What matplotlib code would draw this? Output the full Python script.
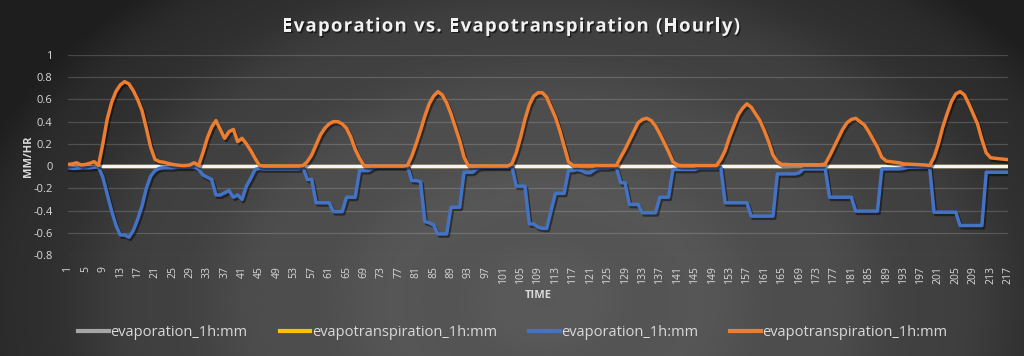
import numpy as np
import matplotlib
matplotlib.use("Agg")
import matplotlib.pyplot as plt
import matplotlib.patheffects as pe
from matplotlib.lines import Line2D
from matplotlib.font_manager import FontProperties
from matplotlib.textpath import TextToPath

# ---------------- data ----------------
hours = list(range(1, 218))

evapotranspiration = [
    0.015, 0.02, 0.03, 0.01, 0.015, 0.025, 0.04, 0.005, 0.2, 0.42,
    0.57, 0.67, 0.73, 0.76, 0.74, 0.68, 0.6, 0.5, 0.34, 0.17,
    0.06, 0.04, 0.035, 0.025, 0.015, 0.01, 0.005, 0.005, 0.01, 0.03,
    0.005, 0.12, 0.25, 0.35, 0.41, 0.33, 0.25, 0.31, 0.33, 0.22,
    0.25, 0.2, 0.14, 0.07, 0.005, 0, 0, 0, 0, 0,
    0, 0, 0, 0, 0.005, 0.04, 0.1, 0.19, 0.28, 0.34,
    0.38, 0.4, 0.4, 0.38, 0.34, 0.26, 0.15, 0.07, 0.005, 0,
    0, 0, 0, 0, 0, 0, 0, 0, 0.005, 0.09,
    0.2, 0.32, 0.45, 0.56, 0.63, 0.67, 0.64, 0.57, 0.47, 0.35,
    0.23, 0.08, 0.005, 0, 0, 0, 0, 0, 0, 0,
    0, 0, 0.02, 0.12, 0.26, 0.42, 0.55, 0.63, 0.66, 0.66,
    0.62, 0.53, 0.44, 0.32, 0.18, 0.04, 0.005, 0.005, 0.005, 0.005,
    0.005, 0.005, 0.005, 0.005, 0.005, 0.005, 0.005, 0.08, 0.15, 0.23,
    0.31, 0.39, 0.42, 0.43, 0.41, 0.36, 0.29, 0.21, 0.13, 0.04,
    0.01, 0.005, 0.005, 0.005, 0.005, 0.005, 0.005, 0.005, 0.005, 0.005,
    0.06, 0.14, 0.26, 0.36, 0.46, 0.52, 0.56, 0.53, 0.47, 0.41,
    0.32, 0.22, 0.1, 0.04, 0.015, 0.015, 0.012, 0.012, 0.012, 0.012,
    0.012, 0.012, 0.012, 0.012, 0.02, 0.09, 0.17, 0.25, 0.33, 0.39,
    0.42, 0.43, 0.4, 0.37, 0.31, 0.24, 0.17, 0.08, 0.045, 0.04,
    0.035, 0.03, 0.02, 0.018, 0.015, 0.015, 0.012, 0.01, 0.005, 0.08,
    0.2, 0.35, 0.47, 0.58, 0.65, 0.67, 0.64, 0.56, 0.47, 0.38,
    0.24, 0.12, 0.075, 0.07, 0.066, 0.062, 0.058,
]

evaporation = [
    -0.015, -0.02, -0.02, -0.015, -0.015, -0.015, -0.01, -0.005, -0.1, -0.25,
    -0.4, -0.53, -0.62, -0.62, -0.64, -0.58, -0.48, -0.36, -0.2, -0.09,
    -0.04, -0.02, -0.015, -0.015, -0.015, -0.01, -0.01, -0.01, -0.01, -0.005,
    -0.03, -0.08, -0.1, -0.12, -0.26, -0.26, -0.24, -0.22, -0.28, -0.26,
    -0.3, -0.18, -0.11, -0.03, -0.02, -0.025, -0.025, -0.025, -0.025, -0.025,
    -0.025, -0.025, -0.025, -0.025, -0.01, -0.12, -0.12, -0.33, -0.33, -0.33,
    -0.33, -0.41, -0.41, -0.41, -0.28, -0.28, -0.28, -0.04, -0.04, -0.04,
    -0.015, -0.005, -0.005, -0.005, -0.005, -0.005, -0.005, -0.005, 0, -0.13,
    -0.13, -0.14, -0.5, -0.51, -0.53, -0.61, -0.61, -0.61, -0.37, -0.37,
    -0.37, -0.055, -0.055, -0.055, -0.02, -0.01, -0.01, -0.01, -0.01, -0.01,
    -0.01, -0.01, 0, -0.18, -0.18, -0.18, -0.52, -0.52, -0.55, -0.56,
    -0.56, -0.4, -0.245, -0.245, -0.245, -0.04, -0.04, -0.03, -0.04, -0.06,
    -0.06, -0.03, -0.015, -0.015, -0.015, -0.01, -0.01, -0.15, -0.15, -0.345,
    -0.345, -0.345, -0.42, -0.42, -0.42, -0.42, -0.28, -0.28, -0.28, -0.03,
    -0.03, -0.03, -0.03, -0.03, -0.03, -0.015, -0.015, -0.015, -0.015, -0.015,
    -0.01, -0.33, -0.33, -0.33, -0.33, -0.33, -0.33, -0.45, -0.45, -0.45,
    -0.45, -0.45, -0.45, -0.07, -0.07, -0.07, -0.07, -0.07, -0.06, -0.025,
    -0.025, -0.025, -0.025, -0.025, -0.025, -0.28, -0.28, -0.28, -0.28, -0.28,
    -0.28, -0.405, -0.405, -0.405, -0.405, -0.405, -0.405, -0.025, -0.025, -0.025,
    -0.025, -0.025, -0.02, -0.01, -0.01, -0.01, -0.01, -0.01, -0.01, -0.415,
    -0.415, -0.415, -0.415, -0.415, -0.415, -0.535, -0.535, -0.535, -0.535, -0.535,
    -0.535, -0.055, -0.055, -0.055, -0.055, -0.055, -0.055,
]

# first pair of series (flat at zero in the chart)
evaporation_ref = [0.0] * len(hours)
evapotranspiration_ref = [0.0] * len(hours)

series_labels = ["evaporation_1h:mm", "evapotranspiration_1h:mm",
                 "evaporation_1h:mm", "evapotranspiration_1h:mm"]
legend_colors = ["#a5a5a5", "#ffc000", "#4472c4", "#ed7d31"]

y_ticks = [-0.8, -0.6, -0.4, -0.2, 0, 0.2, 0.4, 0.6, 0.8, 1]
x_tick_step = 4

title_text = "Evaporation vs. Evapotranspiration (Hourly)"
x_title = "TIME"
y_title = "MM/HR"

# ---------------- figure ----------------
W, H = 1024, 356
DPI = 100
fig = plt.figure(figsize=(W / DPI, H / DPI), dpi=DPI)

# radial gradient background
bg = fig.add_axes([0, 0, 1, 1], zorder=-5)
yy, xx = np.mgrid[0:H, 0:W]
d = np.sqrt(((xx - 545) / 620.0) ** 2 + ((yy - 300) / 430.0) ** 2)
L = 88 - 60 * d ** 2
L = L + 2.0 * np.sin(d * 30)  # faint concentric rings
L = np.clip(L, 30, 95) / 255.0
img = np.dstack([L, L, L])
bg.imshow(img, extent=[0, 1, 0, 1], aspect="auto", origin="upper")
bg.set_axis_off()

ax = fig.add_axes([68 / W, 101 / H, 940 / W, 200 / H])
ax.patch.set_alpha(0)

txt = "#d9d9d9"
font = "Open Sans"

shadow = [pe.SimpleLineShadow(offset=(1.2, -1.6), shadow_color="black", alpha=0.45),
          pe.Normal()]

ax.plot(hours, evapotranspiration_ref, color=legend_colors[1], lw=2.4, zorder=2,
        solid_capstyle="butt")
ax.plot(hours, evaporation_ref, color="#f4f4f4", lw=2.5, zorder=3,
        solid_capstyle="butt")
ax.plot(hours, evaporation, color=legend_colors[2], lw=2.5, zorder=4,
        solid_joinstyle="round", path_effects=shadow)
ax.plot(hours, evapotranspiration, color=legend_colors[3], lw=2.5, zorder=5,
        solid_joinstyle="round", path_effects=shadow)

ax.set_xlim(hours[0], hours[-1])
ax.set_ylim(-0.8, 1.0)
ax.set_yticks(y_ticks)
ax.set_yticklabels([f"{round(v, 1):g}" for v in y_ticks], fontsize=8,
                   color=txt, family=font)
xt = hours[::x_tick_step]
ax.set_xticks(xt)
ax.set_xticklabels([str(h) for h in xt], rotation=90, fontsize=7.5,
                   color=txt, family=font)
ax.tick_params(axis="both", length=0)
ax.tick_params(axis="y", pad=11)
ax.tick_params(axis="x", pad=8)
for s in ax.spines.values():
    s.set_visible(False)
ax.yaxis.grid(True, color="#ffffff", alpha=0.17, lw=0.9)
ax.set_axisbelow(True)

fig.text(28 / W, 1 - 156 / H, y_title, rotation=90, ha="center", va="center",
         fontsize=8, fontweight="bold", color=txt, family=font)
fig.text(538 / W, 1 - 295 / H, x_title, ha="center", va="center",
         fontsize=8, fontweight="bold", color=txt, family=font)

# title with letter spacing (drawn character by character)
tprop = FontProperties(family=font, weight="bold", size=13.4)
t2p = TextToPath()
px_per_pt = DPI / 72.0


def text_w(s):
    w, _, _ = t2p.get_text_width_height_descent(s, tprop, ismath=False)
    return w * px_per_pt


bar_w = text_w("l")
advances = [text_w(title_text[:i] + "l") - bar_w for i in range(len(title_text))]
full_w = text_w(title_text)
target_w = 458.0
spacing = (target_w - full_w) / (len(title_text) - 1)
x_start = 511 - target_w / 2
title_base_y = 1 - 31.5 / H
title_fx = [pe.withSimplePatchShadow(offset=(1, -1.2), shadow_rgbFace="black", alpha=0.55)]
for i, ch in enumerate(title_text):
    if ch == " ":
        continue
    fig.text((x_start + advances[i] + i * spacing) / W, title_base_y, ch,
             ha="left", va="baseline", fontproperties=tprop, color="#f2f2f2",
             path_effects=title_fx)

handles = [Line2D([0], [0], color=c, lw=3) for c in legend_colors]
leg = fig.legend(handles, series_labels, loc="center", bbox_to_anchor=(513 / W, 1 - 333 / H),
                 ncol=4, frameon=False, handlelength=2.1, handletextpad=0.1,
                 columnspacing=2.2, prop={"family": font, "size": 10.5})
for t in leg.get_texts():
    t.set_color(txt)

fig.savefig("out.png", dpi=DPI)
